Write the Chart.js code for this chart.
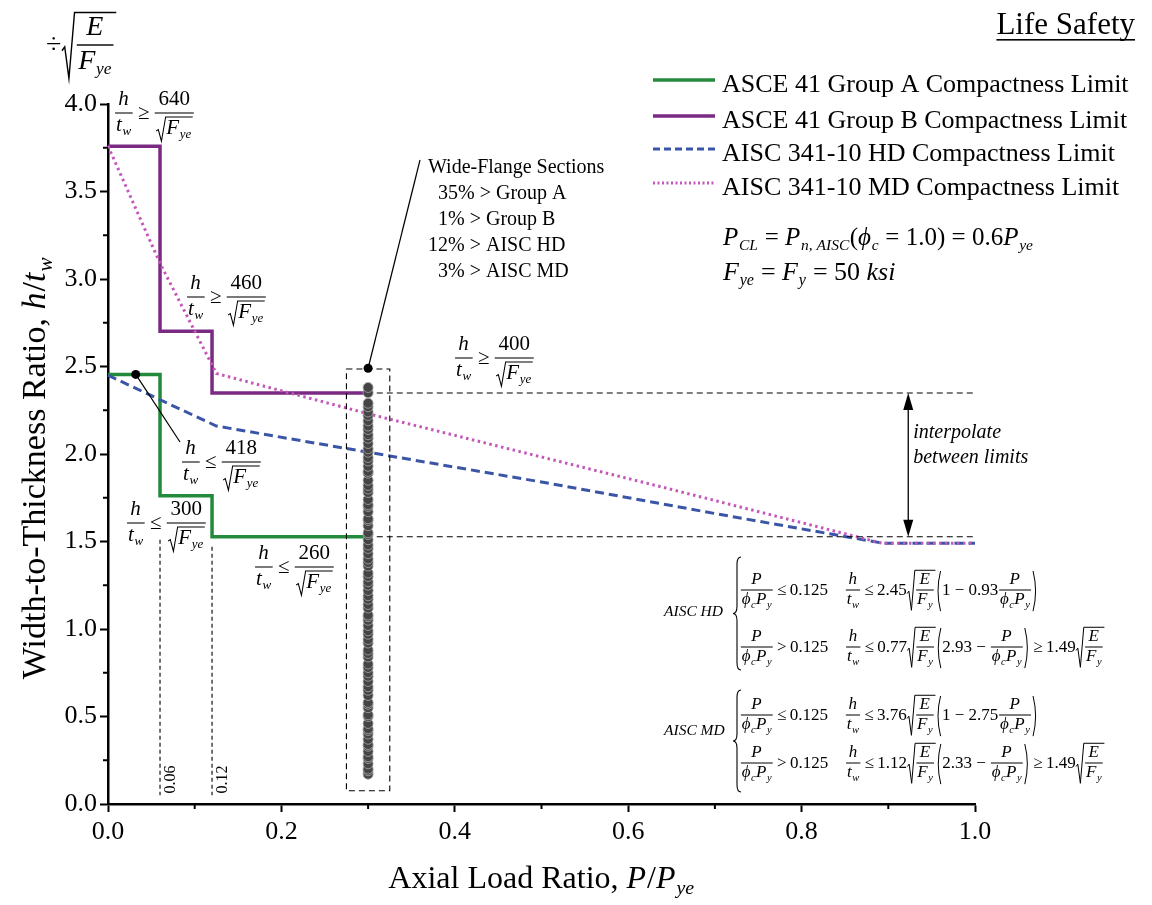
<!DOCTYPE html>
<html><head><meta charset="utf-8">
<script src="https://cdn.jsdelivr.net/npm/chart.js@4.4.0/dist/chart.umd.min.js"></script>
<style>html,body{margin:0;padding:0;background:#fff}#wrap{position:relative;width:1152px;height:905px}</style>
</head><body><div id="wrap"><canvas id="c"></canvas></div>
<script>
const SERIF = '"Liberation Serif","Times New Roman",serif';

// ---------------- data ----------------
const xTickValues = [0, 0.2, 0.4, 0.6, 0.8, 1.0];
const xTickLabels = ['0.0', '0.2', '0.4', '0.6', '0.8', '1.0'];
const yTickValues = [0, 0.5, 1.0, 1.5, 2.0, 2.5, 3.0, 3.5, 4.0];
const yTickLabels = ['0.0', '0.5', '1.0', '1.5', '2.0', '2.5', '3.0', '3.5', '4.0'];
const xMinorTicks = [0.1, 0.3, 0.5, 0.7, 0.9];
const yMinorTicks = [0.25, 0.75, 1.25, 1.75, 2.25, 2.75, 3.25, 3.75];

const seriesNames = ['ASCE 41 Group A Compactness Limit', 'ASCE 41 Group B Compactness Limit',
                     'AISC 341-10 HD Compactness Limit', 'AISC 341-10 MD Compactness Limit'];
const groupAx = [0, 0.06, 0.06, 0.12, 0.12, 0.30];
const groupAy = [2.455, 2.455, 1.762, 1.762, 1.527, 1.527];
const groupBx = [0, 0.06, 0.06, 0.12, 0.12, 0.30];
const groupBy = [3.758, 3.758, 2.701, 2.701, 2.349, 2.349];
const hdX = [0, 0.06, 0.125, 0.3, 0.5, 0.7, 0.894, 1.0];
const hdY = [2.45, 2.31, 2.16, 2.01, 1.84, 1.66, 1.49, 1.49];
const mdX = [0, 0.06, 0.125, 0.3, 0.64, 0.893, 1.0];
const mdY = [3.76, 3.09, 2.46, 2.23, 1.81, 1.49, 1.49];

const wfLoad = 0.30;
const wfRatio = [0.17,0.19,0.20,0.23,0.26,0.27,0.30,0.33,0.34,0.37,0.40,0.42,0.43,0.46,0.50,0.51,0.55,0.57,
  0.58,0.62,0.65,0.67,0.70,0.73,0.75,0.78,0.80,0.84,0.86,0.88,0.92,0.94,0.97,0.99,1.02,1.05,1.07,1.08,1.12,
  1.14,1.17,1.19,1.22,1.25,1.27,1.30,1.32,1.36,1.38,1.40,1.43,1.46,1.48,1.51,1.54,1.55,1.59,1.62,1.63,1.67,
  1.70,1.71,1.74,1.78,1.80,1.82,1.85,1.89,1.90,1.93,1.96,1.98,2.01,2.03,2.06,2.09,2.11,2.14,2.16,2.19,2.22,
  2.24,2.27,2.29,2.35,2.38];
const wfStats = ['Wide-Flange Sections', '35% > Group A', '1% > Group B', '12% > AISC HD', '3% > AISC MD'];

const COL = {A:'#23893b', B:'#7b2a84', HD:'#3a55a6', MD:'#c457b9'};
const pts = (xs, ys) => xs.map((x, i) => ({x, y: ys[i]}));

// ---------------- tiny math layout ----------------
function fnt(sz, it){ return (it ? 'italic ' : '') + sz.toFixed(2) + 'px ' + SERIF; }
const T = s => ({k:'t', s, it:false});
const I = s => ({k:'t', s, it:true});
const R = (...c) => ({k:'r', c});
const FR = (n, d) => ({k:'f', n, d});
const SQ = b => ({k:'q', b});
const SB = (b, s) => ({k:'s', b, s});
const PA = b => ({k:'p', b});
const SP = em => ({k:'sp', em});

function meas(ctx, n, sz){
  switch(n.k){
    case 't': ctx.font = fnt(sz, n.it); return {w: ctx.measureText(n.s).width + (n.it ? sz*0.03 : 0), a: sz*0.68, d: sz*0.2};
    case 'sp': return {w: n.em*sz, a: 0, d: 0};
    case 'r': { let w=0,a=0,d=0; for (const c of n.c){ const m = meas(ctx,c,sz); w+=m.w; a=Math.max(a,m.a); d=Math.max(d,m.d);} return {w,a,d}; }
    case 'f': { const mn=meas(ctx,n.n,sz), md=meas(ctx,n.d,sz), ax=sz*0.27, g=sz*0.16;
      return {w: Math.max(mn.w, md.w)+sz*0.2, a: ax+g+mn.d+mn.a, d: g+md.a+md.d-ax, mn, md, ax, g}; }
    case 'q': { const mb=meas(ctx,n.b,sz); return {w: mb.w+sz*0.55, a: mb.a+sz*0.15, d: mb.d+sz*0.03, mb}; }
    case 's': { const mb=meas(ctx,n.b,sz), ms=meas(ctx,n.s,sz*0.62); return {w: mb.w+ms.w, a: mb.a, d: Math.max(mb.d, sz*0.2+ms.d), mb, ms}; }
    case 'p': { const mb=meas(ctx,n.b,sz); return {w: mb.w+sz*0.75, a: mb.a+sz*0.08, d: mb.d+sz*0.08, mb}; }
  }
}
function drw(ctx, n, sz, x, y){
  const m = meas(ctx, n, sz);
  switch(n.k){
    case 't': ctx.font = fnt(sz, n.it); ctx.textAlign='left'; ctx.textBaseline='alphabetic'; ctx.fillText(n.s, x, y); break;
    case 'r': { let cx = x; for (const c of n.c) cx += drw(ctx, c, sz, cx, y); break; }
    case 'f': { const by = y - m.ax;
      drw(ctx, n.n, sz, x + (m.w-m.mn.w)/2, by - m.g - m.mn.d);
      drw(ctx, n.d, sz, x + (m.w-m.md.w)/2, by + m.g + m.md.a);
      const lw = Math.max(1, sz*0.05); ctx.fillRect(x+sz*0.05, by-lw/2, m.w-sz*0.1, lw); break; }
    case 'q': { const top = y - m.a + sz*0.03, bot = y + m.d, h = bot-top, lw = Math.max(1, sz*0.05);
      ctx.save(); ctx.lineWidth = lw; ctx.beginPath();
      ctx.moveTo(x+sz*0.02, bot-h*0.42); ctx.lineTo(x+sz*0.12, bot-h*0.48);
      ctx.lineTo(x+sz*0.27, bot); ctx.lineTo(x+sz*0.47, top); ctx.lineTo(x+m.w, top); ctx.stroke(); ctx.restore();
      drw(ctx, n.b, sz, x+sz*0.5, y); break; }
    case 's': drw(ctx, n.b, sz, x, y); drw(ctx, n.s, sz*0.62, x+m.mb.w, y+sz*0.2); break;
    case 'p': { const top=y-m.a, bot=y+m.d, mid=(top+bot)/2;
      ctx.save(); ctx.lineWidth = Math.max(1, sz*0.055); ctx.beginPath();
      ctx.moveTo(x+sz*0.3, top); ctx.quadraticCurveTo(x, mid, x+sz*0.3, bot);
      ctx.moveTo(x+m.w-sz*0.3, top); ctx.quadraticCurveTo(x+m.w, mid, x+m.w-sz*0.3, bot);
      ctx.stroke(); ctx.restore(); drw(ctx, n.b, sz, x+sz*0.38, y); break; }
  }
  return m.w;
}

const HT = FR(I('h'), SB(I('t'), I('w')));
const FYE = SB(I('F'), I('ye'));
const ineq = (rel, num) => R(HT, T('\u2009' + rel + '\u2009'), FR(T(num), SQ(FYE)));
const PF = FR(I('P'), R(SB(I('ϕ'), I('c')), SB(I('P'), I('y'))));
const EF = SQ(FR(I('E'), SB(I('F'), I('y'))));

// ---------------- plugin ----------------
function seg(ctx, x1, y1, x2, y2){ ctx.beginPath(); ctx.moveTo(x1, y1); ctx.lineTo(x2, y2); ctx.stroke(); }
function brace(ctx, x, top, bot, w){
  const mid = (top+bot)/2, r = w*0.9;
  ctx.beginPath();
  ctx.moveTo(x+w, top); ctx.quadraticCurveTo(x+w/2, top, x+w/2, top+r);
  ctx.lineTo(x+w/2, mid-r); ctx.quadraticCurveTo(x+w/2, mid, x, mid);
  ctx.quadraticCurveTo(x+w/2, mid, x+w/2, mid+r); ctx.lineTo(x+w/2, bot-r);
  ctx.quadraticCurveTo(x+w/2, bot, x+w, bot); ctx.stroke();
}

const annot = {
  id: 'annot',
  afterDraw(chart){
    const ctx = chart.ctx, xs = chart.scales.x, ys = chart.scales.y, ca = chart.chartArea;
    const X = v => xs.getPixelForValue(v), Y = v => ys.getPixelForValue(v);
    ctx.save();
    ctx.fillStyle = '#000'; ctx.strokeStyle = '#000';

    // minor ticks
    ctx.lineWidth = 2;
    for (const v of yMinorTicks) seg(ctx, ca.left-5, Y(v), ca.left, Y(v));
    for (const v of xMinorTicks) seg(ctx, X(v), ca.bottom, X(v), ca.bottom+5);

    // dashed guides
    ctx.lineWidth = 1.1; ctx.setLineDash([6, 4]);
    ctx.strokeRect(X(0.275), Y(2.486), X(0.325)-X(0.275), Y(0.076)-Y(2.486));
    seg(ctx, X(0.31), Y(2.349), X(1.0), Y(2.349));
    seg(ctx, X(0.31), Y(1.527), X(1.0), Y(1.527));
    ctx.setLineDash([4, 3]);
    seg(ctx, X(0.06), Y(1.51), X(0.06), Y(0.05));
    seg(ctx, X(0.12), Y(1.47), X(0.12), Y(0.05));
    ctx.setLineDash([]);

    // rotated 0.06 / 0.12 labels
    ctx.font = fnt(16, false); ctx.textAlign = 'left'; ctx.textBaseline = 'middle';
    for (const [v, s] of [[0.06, '0.06'], [0.12, '0.12']]){
      ctx.save(); ctx.translate(X(v)+11, Y(0.06)); ctx.rotate(-Math.PI/2); ctx.fillText(s, 0, 0); ctx.restore();
    }

    // interpolate arrow
    const ax = X(0.923), y1 = Y(2.349), y2 = Y(1.527);
    ctx.lineWidth = 1.3; seg(ctx, ax, y1+14, ax, y2-14);
    ctx.beginPath(); ctx.moveTo(ax, y1); ctx.lineTo(ax-5, y1+17); ctx.lineTo(ax+5, y1+17); ctx.closePath(); ctx.fill();
    ctx.beginPath(); ctx.moveTo(ax, y2); ctx.lineTo(ax-5, y2-17); ctx.lineTo(ax+5, y2-17); ctx.closePath(); ctx.fill();
    ctx.font = fnt(20, true); ctx.textBaseline = 'alphabetic';
    ctx.fillText('interpolate', ax+5, 438);
    ctx.fillText('between limits', ax+5, 463);

    // pointer dots
    ctx.beginPath(); ctx.arc(X(0.3), Y(2.49), 4.5, 0, Math.PI*2); ctx.fill();
    ctx.lineWidth = 1.2; seg(ctx, X(0.3), Y(2.49), 420, 160);
    ctx.beginPath(); ctx.arc(X(0.032), Y(2.455), 4.5, 0, Math.PI*2); ctx.fill();
    seg(ctx, X(0.032), Y(2.455), 180, 442);

    // stats text
    ctx.font = fnt(20, false); ctx.textAlign = 'left';
    const sx = [428, 438, 438, 428, 438], sy = [173, 199, 225, 251, 277];
    wfStats.forEach((s, i) => ctx.fillText(s, sx[i], sy[i]));

    // inequality labels (left x, fraction-bar y)
    const L = 21, axo = L*0.27;
    drw(ctx, ineq('≥', '640'), L, 114, 113+axo);
    drw(ctx, ineq('≥', '460'), L, 186, 297+axo);
    drw(ctx, ineq('≥', '400'), L, 454, 358+axo);
    drw(ctx, ineq('≤', '418'), L, 181, 462+axo);
    drw(ctx, ineq('≤', '300'), L, 126, 523+axo);
    drw(ctx, ineq('≤', '260'), L, 254, 567+axo);

    // top-left normaliser
    drw(ctx, R(T('÷'), SQ(FR(I('E'), FYE))), 28, 46, 45+28*0.27);

    // title
    ctx.font = fnt(31, false); ctx.textAlign = 'right'; ctx.textBaseline = 'alphabetic';
    ctx.fillText('Life Safety', 1135, 34);
    const tw = ctx.measureText('Life Safety').width;
    ctx.fillRect(1135-tw, 39, tw, 1.6);

    // legend
    const ly = [80, 116, 149, 183];
    const lstyle = [[COL.A, [], 3.5], [COL.B, [], 3.5], [COL.HD, [7, 4], 3], [COL.MD, [2, 2.5], 3]];
    ctx.textAlign = 'left';
    ly.forEach((yy, i) => {
      ctx.strokeStyle = lstyle[i][0]; ctx.lineWidth = lstyle[i][2]; ctx.setLineDash(lstyle[i][1]);
      seg(ctx, 653, yy, 715, yy);
      ctx.setLineDash([]);
      ctx.font = fnt(26, false); ctx.fillStyle = '#000';
      ctx.fillText(seriesNames[i], 722, yy+12);
    });
    ctx.strokeStyle = '#000';

    // material equations
    drw(ctx, R(SB(I('P'), I('CL')), T(' = '), SB(I('P'), I('n, AISC')), T('('), SB(I('ϕ'), I('c')), T(' = 1.0) = 0.6'), SB(I('P'), I('ye'))), 25, 723, 245);
    drw(ctx, R(SB(I('F'), I('ye')), T(' = '), SB(I('F'), I('y')), T(' = 50 '), I('ksi')), 26, 723, 280);

    // axis titles
    const ytitle = R(T('Width-to-Thickness Ratio, '), I('h'), T('/'), SB(I('t'), I('w')));
    const xtitle = R(T('Axial Load Ratio, '), I('P'), T('/'), SB(I('P'), I('ye')));
    const yw = meas(ctx, ytitle, 34).w, xw = meas(ctx, xtitle, 32).w;
    ctx.save(); ctx.translate(45, 468); ctx.rotate(-Math.PI/2); drw(ctx, ytitle, 34, -yw/2, 0); ctx.restore();
    drw(ctx, xtitle, 32, (ca.left+ca.right)/2 - xw/2, 888);

    // AISC equations
    const E = 17, eo = E*0.27;
    ctx.font = fnt(15.5, true); ctx.textAlign = 'left';
    ctx.fillText('AISC HD', 664, 616);
    ctx.fillText('AISC MD', 664, 735);
    ctx.lineWidth = 1.1;
    brace(ctx, 733, 557, 670, 8);
    brace(ctx, 733, 690, 792, 8);
    const rel = s => T('\u2009' + s + '\u2009');
    drw(ctx, R(PF, rel('≤'), T('0.125'), SP(1.0), HT, rel('≤'), T('2.45'), EF, PA(R(T('1 − 0.93'), PF))), E, 740, 590+eo);
    drw(ctx, R(PF, rel('>'), T('0.125'), SP(1.0), HT, rel('≤'), T('0.77'), EF, PA(R(T('2.93 − '), PF)), rel('≥'), T('1.49'), EF), E, 740, 647+eo);
    drw(ctx, R(PF, rel('≤'), T('0.125'), SP(1.0), HT, rel('≤'), T('3.76'), EF, PA(R(T('1 − 2.75'), PF))), E, 740, 715+eo);
    drw(ctx, R(PF, rel('>'), T('0.125'), SP(1.0), HT, rel('≤'), T('1.12'), EF, PA(R(T('2.33 − '), PF)), rel('≥'), T('1.49'), EF), E, 740, 763+eo);

    ctx.restore();
  }
};

// ---------------- chart ----------------
const tickFont = {family: SERIF, size: 26};
new Chart(document.getElementById('c'), {
  type: 'line',
  data: {
    datasets: [
      {label: 'Wide-Flange Sections', type: 'scatter', data: wfRatio.map(y => ({x: wfLoad, y})), showLine: false,
       pointRadius: 5, pointBackgroundColor: '#454545', pointBorderColor: '#a8a8a8', pointBorderWidth: 0.8, order: 0},
      {label: seriesNames[3], data: pts(mdX, mdY), borderColor: COL.MD, borderWidth: 3, borderDash: [2.5, 3.5], pointRadius: 0, tension: 0, clip: false, order: 1},
      {label: seriesNames[2], data: pts(hdX, hdY), borderColor: COL.HD, borderWidth: 3, borderDash: [9, 5], pointRadius: 0, tension: 0, clip: false, order: 2},
      {label: seriesNames[1], data: pts(groupBx, groupBy), borderColor: COL.B, borderWidth: 3.5, pointRadius: 0, tension: 0, clip: false, order: 3},
      {label: seriesNames[0], data: pts(groupAx, groupAy), borderColor: COL.A, borderWidth: 3.5, pointRadius: 0, tension: 0, clip: false, order: 4}
    ]
  },
  options: {
    responsive: true, maintainAspectRatio: false, animation: false,
    layout: {padding: {left: 0, right: 177, top: 104, bottom: 0}},
    plugins: {legend: {display: false}, tooltip: {enabled: false}},
    scales: {
      x: {type: 'linear', min: 0, max: 1,
          afterFit: s => { s.height = 101; },
          afterBuildTicks: s => { s.ticks = xTickValues.map(v => ({value: v})); },
          ticks: {callback: (v, i) => xTickLabels[i], font: tickFont, color: '#000', padding: 5, maxRotation: 0, autoSkip: false},
          grid: {drawOnChartArea: false, drawTicks: true, tickLength: 8, tickWidth: 2, tickColor: '#000'},
          border: {display: true, color: '#000', width: 2.5}},
      y: {type: 'linear', min: 0, max: 4,
          afterFit: s => { s.width = 108; },
          afterBuildTicks: s => { s.ticks = yTickValues.map(v => ({value: v})); },
          ticks: {callback: (v, i) => yTickLabels[i], font: tickFont, color: '#000', padding: 3, autoSkip: false},
          grid: {drawOnChartArea: false, drawTicks: true, tickLength: 8, tickWidth: 2, tickColor: '#000'},
          border: {display: true, color: '#000', width: 2.5}}
    }
  },
  plugins: [annot]
});
</script></body></html>
